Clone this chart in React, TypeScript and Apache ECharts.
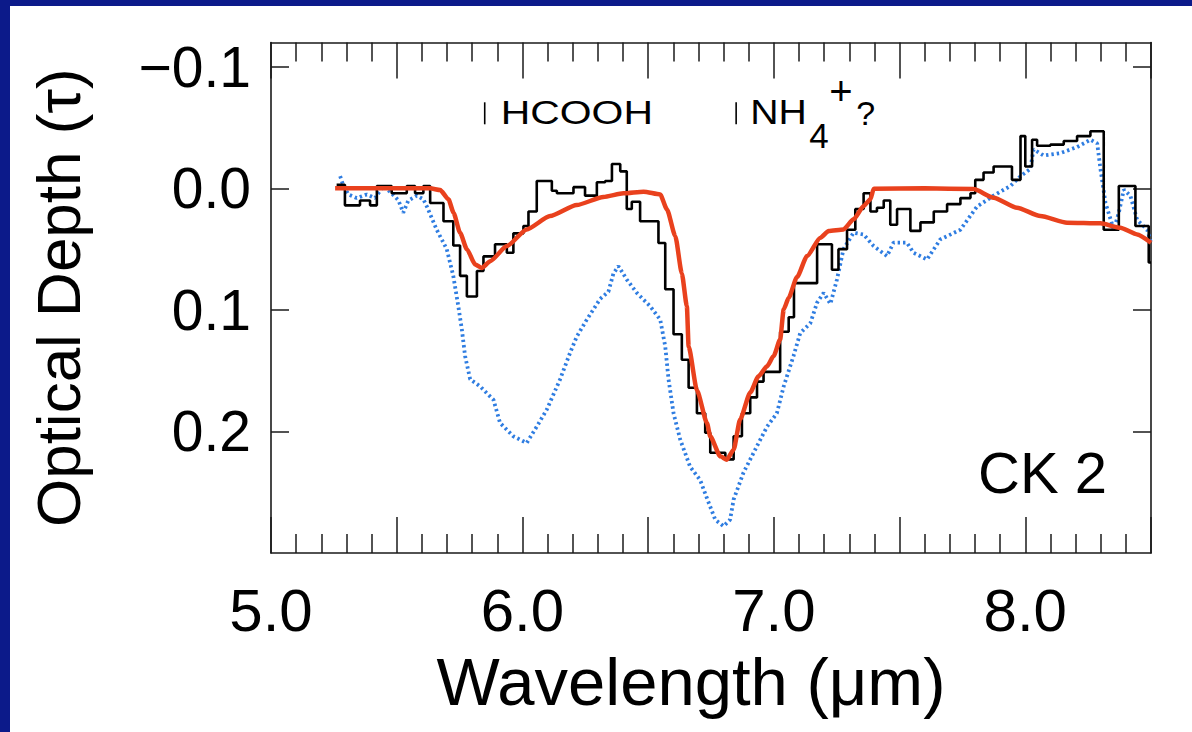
import React, { useEffect, useRef } from "react";
import * as echarts from "echarts";

const FONT = "'Liberation Sans', Arial, Helvetica, sans-serif";
const NAVY = "#0c1a8a";

// Axis ticks / labels
const xLabelValues = [5, 6, 7, 8];
const xLabelTexts = ["5.0", "6.0", "7.0", "8.0"];
const yTickValues = [-0.1, 0, 0.1, 0.2];
const yTickTexts = ["\u22120.1", "0.0", "0.1", "0.2"];

// Observed spectrum (histogram, bin left edges + last right edge)
const observedX = [5.261, 5.294, 5.354, 5.394, 5.421, 5.48, 5.54, 5.573, 5.606, 5.633, 5.686, 5.725, 5.752, 5.779, 5.819, 5.845, 5.891, 5.938, 5.964, 6.004, 6.024, 6.057, 6.117, 6.137, 6.203, 6.249, 6.296, 6.329, 6.356, 6.389, 6.415, 6.435, 6.468, 6.541, 6.568, 6.601, 6.634, 6.661, 6.694, 6.727, 6.747, 6.807, 6.84, 6.873, 6.906, 6.933, 6.959, 7.025, 7.059, 7.08, 7.172, 7.231, 7.257, 7.291, 7.324, 7.357, 7.384, 7.41, 7.437, 7.463, 7.49, 7.543, 7.583, 7.636, 7.689, 7.742, 7.782, 7.801, 7.834, 7.874, 7.947, 7.981, 8.0, 8.027, 8.047, 8.1, 8.153, 8.206, 8.259, 8.312, 8.372, 8.438, 8.491, 8.5];
const observedTau = [-0.003, 0.014, 0.01, 0.014, -0.002, 0.004, -0.002, 0.004, -0.002, 0.012, 0.027, 0.047, 0.072, 0.089, 0.068, 0.056, 0.046, 0.053, 0.037, 0.031, 0.019, -0.006, 0.002, 0.004, -0.001, 0.006, -0.005, -0.006, -0.02, -0.014, 0.017, 0.011, 0.027, 0.045, 0.083, 0.12, 0.141, 0.164, 0.185, 0.201, 0.2175, 0.223, 0.204, 0.185, 0.172, 0.159, 0.151, 0.118, 0.106, 0.078, 0.046, 0.067, 0.05, 0.034, 0.017, 0.004, 0.019, 0.016, 0.01, 0.03, 0.017, 0.035, 0.028, 0.019, 0.013, 0.008, 0.004, -0.007, -0.013, -0.018, -0.007, -0.043, -0.018, -0.04, -0.035, -0.036, -0.039, -0.043, -0.047, 0.034, -0.002, 0.031, 0.061, 0.061];

// Model fit (red)
const modelX = [5.255, 5.633, 5.673, 5.706, 5.726, 5.752, 5.779, 5.812, 5.838, 5.872, 5.938, 6.017, 6.11, 6.216, 6.322, 6.402, 6.482, 6.548, 6.575, 6.608, 6.634, 6.654, 6.661, 6.694, 6.734, 6.747, 6.787, 6.813, 6.84, 6.866, 6.906, 6.939, 6.973, 6.999, 7.025, 7.039, 7.059, 7.092, 7.132, 7.185, 7.218, 7.277, 7.317, 7.357, 7.384, 7.397, 7.6, 7.795, 7.874, 7.967, 8.06, 8.166, 8.299, 8.378, 8.445, 8.5];
const modelTau = [0, 0, 0.0014, 0.009, 0.02, 0.0365, 0.05, 0.0626, 0.0655, 0.0599, 0.0475, 0.0338, 0.0228, 0.0137, 0.0071, 0.0041, 0.0027, 0.005, 0.0173, 0.0393, 0.07, 0.097, 0.13, 0.166, 0.193, 0.204, 0.2205, 0.2232, 0.215, 0.19, 0.168, 0.1546, 0.1464, 0.138, 0.1244, 0.0997, 0.09, 0.073, 0.0557, 0.0406, 0.0351, 0.0338, 0.0255, 0.0146, 0.009, 0.0003, 0, 0.0006, 0.0077, 0.0159, 0.0228, 0.0283, 0.0288, 0.0324, 0.0379, 0.0447];

// Laboratory / comparison spectrum (blue dotted)
const labX = [5.275, 5.288, 5.308, 5.341, 5.381, 5.414, 5.447, 5.48, 5.507, 5.526, 5.546, 5.58, 5.606, 5.62, 5.659, 5.699, 5.725, 5.745, 5.759, 5.772, 5.792, 5.832, 5.885, 5.911, 5.964, 6.017, 6.057, 6.097, 6.15, 6.19, 6.216, 6.256, 6.309, 6.342, 6.362, 6.382, 6.415, 6.455, 6.508, 6.548, 6.568, 6.581, 6.601, 6.628, 6.667, 6.707, 6.734, 6.767, 6.8, 6.826, 6.84, 6.879, 6.933, 6.973, 7.012, 7.039, 7.078, 7.105, 7.145, 7.172, 7.198, 7.225, 7.251, 7.277, 7.317, 7.357, 7.397, 7.45, 7.476, 7.529, 7.556, 7.609, 7.662, 7.742, 7.808, 7.874, 7.941, 7.981, 8.02, 8.033, 8.073, 8.14, 8.206, 8.259, 8.286, 8.299, 8.319, 8.352, 8.372, 8.392, 8.418, 8.445, 8.485, 8.5];
const labTau = [-0.01, -0.002, 0.005, 0.008, 0.005, 0.008, -0.002, 0.004, 0.01, 0.02, 0.01, 0.006, 0.009, 0.015, 0.034, 0.05, 0.072, 0.097, 0.116, 0.138, 0.157, 0.163, 0.174, 0.193, 0.204, 0.2095, 0.196, 0.182, 0.157, 0.135, 0.122, 0.108, 0.091, 0.085, 0.07, 0.064, 0.075, 0.086, 0.097, 0.108, 0.13, 0.157, 0.185, 0.207, 0.229, 0.24, 0.255, 0.2726, 0.278, 0.2726, 0.256, 0.234, 0.212, 0.196, 0.185, 0.163, 0.138, 0.119, 0.111, 0.094, 0.086, 0.095, 0.075, 0.05, 0.0365, 0.038, 0.0475, 0.0557, 0.0447, 0.0447, 0.053, 0.0585, 0.042, 0.034, 0.015, 0.006, -0.002, -0.01, -0.016, -0.032, -0.027, -0.029, -0.034, -0.04, -0.037, -0.016, 0.012, 0.034, 0.02, 0.001, 0.006, 0.026, 0.034, 0.045];

// Band markers (wavelength, tick top / bottom in tau)
const bandX = [5.85, 6.85];
const bandTickTop = -0.0708;
const bandTickBottom = -0.0527;
const sourceLabel = "CK 2";
const sourceLabelPos = [7.812, 0.2504];

const zip = (xs: number[], ys: number[]) => xs.map((x, i) => [x, ys[i]]);

// distance from the text centre line to the alphabetic baseline, in em
const BASE_OFF = 0.3465;

export default function App() {
  const ref = useRef<HTMLDivElement>(null);
  useEffect(() => {
    const chart = echarts.init(ref.current as HTMLDivElement, null, { renderer: "svg" });
    const axisColor = "#1a1a1a";
    const xBase = {
      type: "value",
      min: 5,
      max: 8.5,
      interval: 0.5,
      axisLine: { show: true, onZero: false, lineStyle: { color: axisColor, width: 1.6 } },
      axisTick: { show: true, inside: true, length: 36, lineStyle: { color: axisColor, width: 1.5 } },
      minorTick: { show: true, splitNumber: 5, length: 19, lineStyle: { color: axisColor, width: 1.5 } },
      splitLine: { show: false },
      minorSplitLine: { show: false },
    };
    const yBase = {
      type: "value",
      inverse: true,
      min: -0.12,
      max: 0.3,
      axisLine: { show: true, onZero: false, lineStyle: { color: axisColor, width: 1.6 } },
      axisTick: { show: true, inside: true, length: 18, customValues: yTickValues, lineStyle: { color: axisColor, width: 1.5 } },
      splitLine: { show: false },
    };
    const option: any = {
      animation: false,
      backgroundColor: "#ffffff",
      textStyle: { fontFamily: FONT },
      grid: { left: 261, top: 36.5, right: 41, bottom: 179, containLabel: false },
      xAxis: [
        {
          ...xBase,
          position: "bottom",
          axisLabel: {
            show: true,
            margin: 27,
            fontSize: 60,
            color: "#000",
            fontFamily: FONT,
            formatter: (v: number) => {
              const i = xLabelValues.findIndex((t) => Math.abs(t - v) < 1e-9);
              return i >= 0 ? xLabelTexts[i] : "";
            },
          },
          name: "Wavelength (\u03bcm)",
          nameLocation: "middle",
          nameGap: 95,
          nameTextStyle: { fontSize: 67, color: "#000", fontFamily: FONT, padding: [0, 40, 0, 0] },
        },
        { ...xBase, position: "top", axisLabel: { show: false } },
      ],
      yAxis: [
        {
          ...yBase,
          position: "left",
          axisLabel: {
            show: true,
            margin: 20,
            fontSize: 57,
            color: "#000",
            fontFamily: FONT,
            customValues: yTickValues,
            formatter: (v: number) => {
              const i = yTickValues.findIndex((t) => Math.abs(t - v) < 1e-9);
              return i >= 0 ? yTickTexts[i] : "";
            },
          },
          name: "Optical Depth (\u03c4)",
          nameLocation: "middle",
          nameGap: 182,
          nameTextStyle: { fontSize: 62, color: "#000", fontFamily: FONT },
        },
        { ...yBase, position: "right", axisLabel: { show: false } },
      ],
      series: [
        {
          name: "lab",
          type: "line",
          xAxisIndex: 0,
          yAxisIndex: 0,
          data: zip(labX, labTau),
          showSymbol: false,
          z: 2,
          lineStyle: { color: "#2f7de1", width: 3.8, type: [2.4, 3] },
        },
        {
          name: "observed",
          type: "line",
          xAxisIndex: 0,
          yAxisIndex: 0,
          step: "end",
          data: zip(observedX, observedTau),
          showSymbol: false,
          z: 3,
          lineStyle: { color: "#000", width: 2.6 },
        },
        {
          name: "model",
          type: "line",
          xAxisIndex: 0,
          yAxisIndex: 0,
          data: zip(modelX, modelTau),
          showSymbol: false,
          smooth: 0.2,
          smoothMonotone: "x",
          z: 4,
          lineStyle: { color: "#e9411d", width: 4.5 },
        },
      ],
    };
    chart.setOption(option);

    const px = (x: number, y: number) =>
      chart.convertToPixel({ xAxisIndex: 0, yAxisIndex: 0 }, [x, y]) as number[];

    const txt = (text: string, x: number, baseline: number, fs: number, scaleX = 1) => ({
      type: "text",
      x,
      y: baseline - BASE_OFF * fs,
      scaleX,
      z: 10,
      style: { text, fontSize: fs, fontFamily: FONT, fill: "#000", align: "left", verticalAlign: "middle" },
    });

    const graphics: any[] = [];
    bandX.forEach((bx) => {
      const top = px(bx, bandTickTop);
      const bot = px(bx, bandTickBottom);
      graphics.push({
        type: "line",
        shape: { x1: top[0], y1: top[1], x2: bot[0], y2: bot[1] },
        style: { stroke: "#000", lineWidth: 1.6 },
        z: 10,
      });
    });
    const h = px(bandX[0], bandTickBottom);
    graphics.push(txt("HCOOH", h[0] + 16, h[1], 33, 1.24));
    const n = px(bandX[1], bandTickBottom);
    graphics.push(
      txt("NH", n[0] + 14, n[1], 35, 1.12),
      txt("4", n[0] + 73, n[1] + 23, 35),
      txt("+", n[0] + 93, n[1] - 19, 40),
      txt("?", n[0] + 120, n[1], 34)
    );
    const ck = px(sourceLabelPos[0], sourceLabelPos[1]);
    graphics.push(txt(sourceLabel, ck[0], ck[1], 58));
    chart.setOption({ graphic: graphics });

    return () => chart.dispose();
  }, []);

  return (
    <div style={{ position: "fixed", left: 0, top: 0, width: 1192, height: 732, background: NAVY }}>
      <div
        ref={ref}
        style={{ position: "absolute", left: 10, top: 6, width: 1182, height: 726, background: "#ffffff" }}
      />
    </div>
  );
}
